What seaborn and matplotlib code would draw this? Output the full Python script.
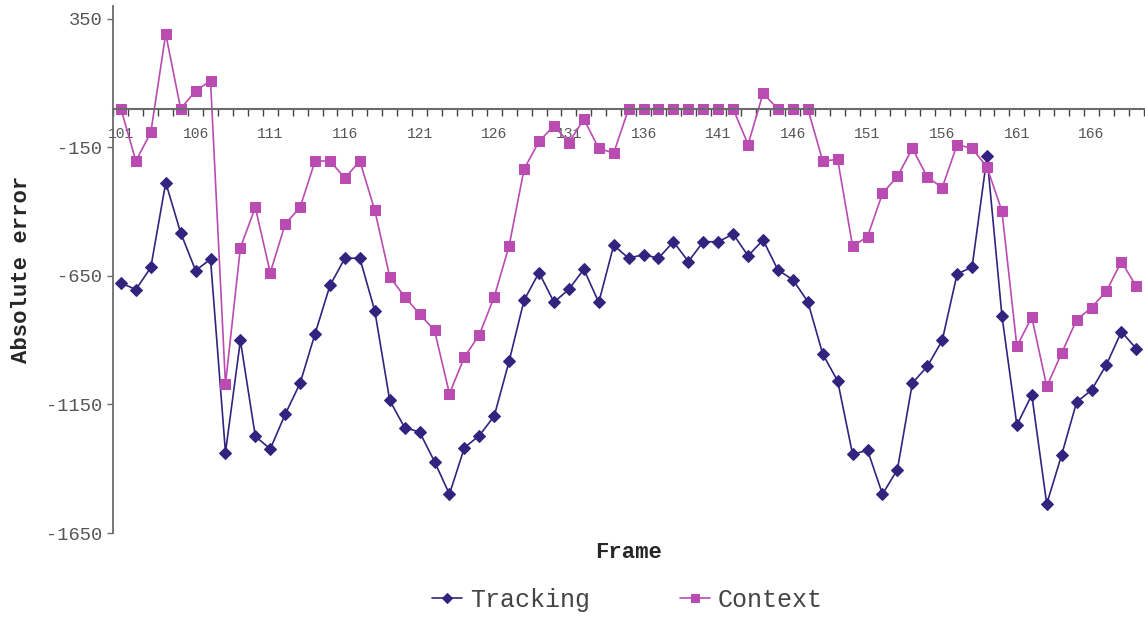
import numpy as np
import pandas as pd
import seaborn as sns
import matplotlib.pyplot as plt

sns.set_theme(style="white")
plt.rcParams['font.family'] = ['Liberation Mono', 'DejaVu Sans Mono']

# Data
frames = list(range(101, 170))

tracking = [-677, -703, -617, -287, -482, -629, -585, -1337, -901, -1274,
            -1323, -1188, -1067, -875, -687, -581, -581, -786, -1134, -1240,
            -1257, -1372, -1499, -1318, -1271, -1195, -981, -744, -637, -752,
            -702, -624, -753, -531, -581, -567, -581, -517, -594, -517,
            -517, -487, -572, -510, -627, -665, -750, -954, -1059, -1344,
            -1328, -1499, -1403, -1067, -1002, -901, -642, -616, -185, -805,
            -1230, -1113, -1537, -1346, -1141, -1094, -995, -867, -933]

context = [0, -203, -92, 291, 0, 70, 109, -1072, -540, -383,
           -638, -448, -383, -203, -203, -269, -203, -395, -653, -731,
           -798, -862, -1108, -966, -879, -731, -532, -234, -127, -66,
           -131, -40, -154, -172, 0, 0, 0, 0, 0, 0,
           0, 0, -139, 60, 0, 0, 0, -203, -197, -535,
           -497, -329, -263, -154, -265, -307, -139, -154, -227, -398,
           -924, -810, -1080, -950, -821, -773, -709, -594, -691]

x_labels = list(range(101, 170, 5))
y_ticks = [-1650, -1150, -650, -150, 350]

df = pd.DataFrame({'Frame': frames, 'Tracking': tracking, 'Context': context})

fig = plt.figure(figsize=(11.45, 6.17), dpi=100)
ax = fig.add_axes([0.0991, 0.1361, 0.9005, 0.8542])

sns.lineplot(data=df, x='Frame', y='Tracking', ax=ax, color='#33237F',
             marker='D', markersize=6, markeredgecolor='#33237F',
             linewidth=1.2, label='Tracking', legend=False)
sns.lineplot(data=df, x='Frame', y='Context', ax=ax, color='#BA4BB0',
             marker='s', markersize=6.5, markeredgecolor='#BA4BB0',
             linewidth=1.2, label='Context', legend=False)

ax.set_xlim(100.5, 169.55)
ax.set_ylim(-1650, 400)

# spines
for s in ['top', 'right']:
    ax.spines[s].set_visible(False)
ax.spines['bottom'].set_position(('data', 0))
ax.spines['bottom'].set_color('#6b6b6b')
ax.spines['bottom'].set_linewidth(1.5)
ax.spines['left'].set_color('#6b6b6b')
ax.spines['left'].set_linewidth(1.3)
ax.spines['left'].set_bounds(-1650, 400)

# x ticks: marks between frames, labels every 5 frames
ax.set_xticks(x_labels)
ax.set_xticklabels([str(v) for v in x_labels])
ax.set_xticks(np.arange(100.5, 170, 1), minor=True)
ax.tick_params(axis='x', which='major', length=0, pad=13, labelsize=10.5,
               labelcolor='#555555')
ax.tick_params(axis='x', which='minor', direction='out', length=5,
               width=1, color='#444444', bottom=True)

ax.set_yticks(y_ticks)
ax.set_yticklabels([str(v) for v in y_ticks])
ax.tick_params(axis='y', which='major', direction='out', length=4, width=1,
               color='#6b6b6b', labelsize=13.5, labelcolor='#555555', pad=4,
               left=True)

ax.set_ylabel('Absolute error', fontsize=16, fontweight='bold', labelpad=10)
ax.set_xlabel('')
fig.text(0.549, 0.104, 'Frame', ha='center', va='center', fontsize=16,
         fontweight='bold')

handles, labels = ax.get_legend_handles_labels()
fig.legend(handles, labels, loc='center', bbox_to_anchor=(0.548, 0.028),
           ncol=2, frameon=False, fontsize=18, handlelength=1.2,
           handletextpad=0.3, columnspacing=3.6, labelcolor='#444444',
           markerscale=0.8)

ax.grid(False)
fig.savefig('out.png', dpi=100)
